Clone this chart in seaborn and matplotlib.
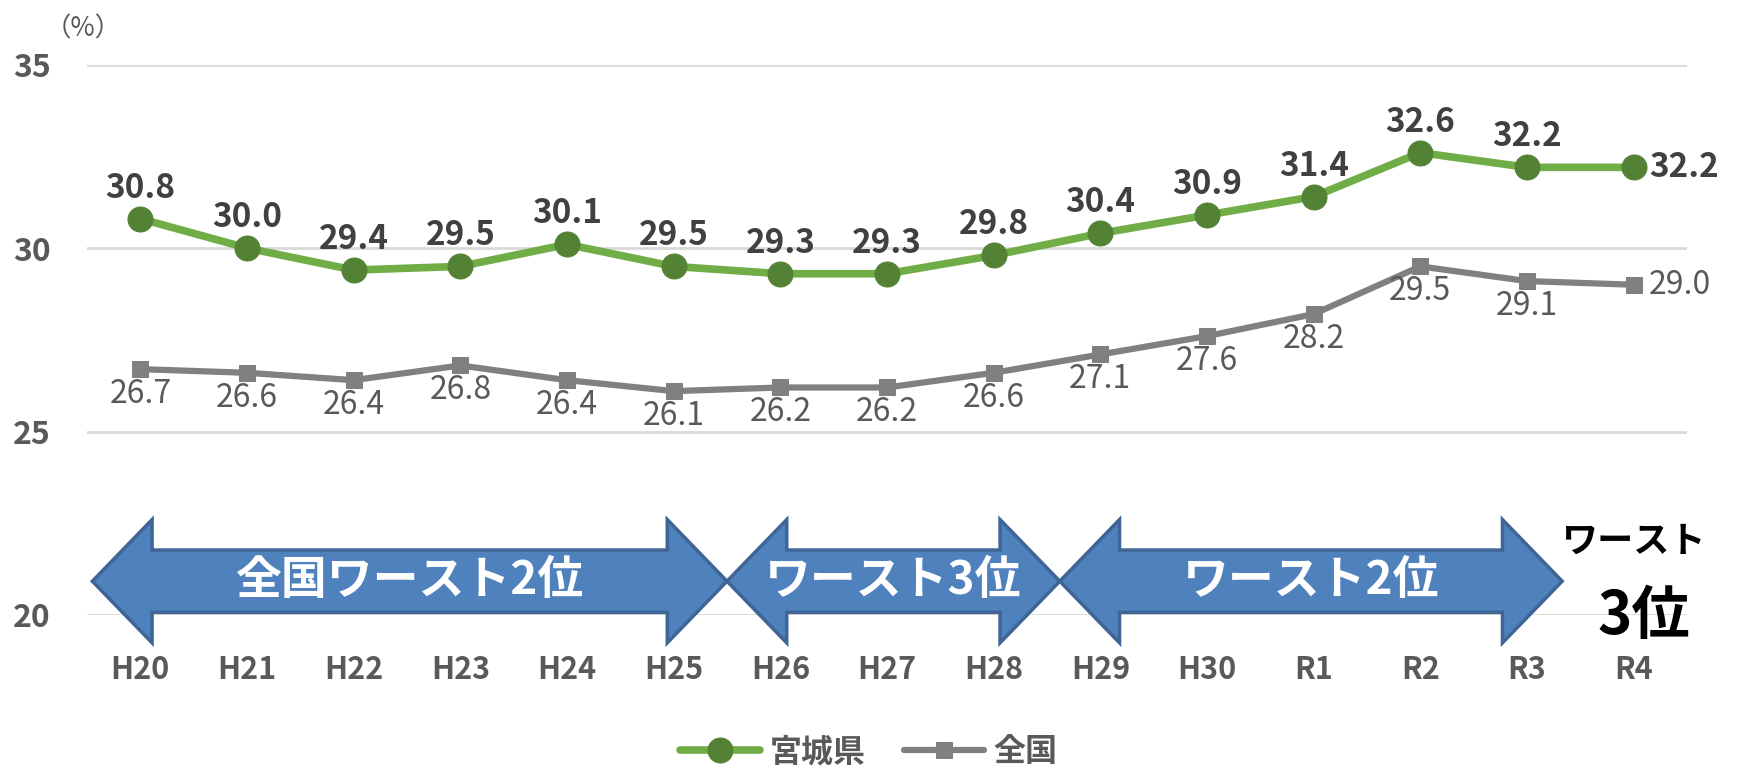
import matplotlib
matplotlib.use("Agg")
import matplotlib.pyplot as plt
from matplotlib.patches import Polygon
import seaborn as sns

# data
years = ["H20", "H21", "H22", "H23", "H24", "H25", "H26", "H27",
         "H28", "H29", "H30", "R1", "R2", "R3", "R4"]
miyagi = [30.8, 30.0, 29.4, 29.5, 30.1, 29.5, 29.3, 29.3,
          29.8, 30.4, 30.9, 31.4, 32.6, 32.2, 32.2]
national = [26.7, 26.6, 26.4, 26.8, 26.4, 26.1, 26.2, 26.2,
            26.6, 27.1, 27.6, 28.2, 29.5, 29.1, 29.0]
rank_spans = [(-0.45, 5.5), (5.5, 8.62), (8.62, 13.33)]
rank_texts = ["全国ワースト2位", "ワースト3位", "ワースト2位"]

sns.set_theme(style="white")
plt.rcParams['font.family'] = ['Noto Sans CJK JP', 'DejaVu Sans']

GREEN_LINE = "#70AD47"
GREEN_MARK = "#548235"
GRAY = "#808080"
TXT = "#595959"

fig = plt.figure(figsize=(17.37, 7.69), dpi=100)
ax = fig.add_axes([0.0501, 0.2003, 0.9211, 0.7157])

xs = list(range(len(years)))
sns.lineplot(x=xs, y=miyagi, ax=ax, color=GREEN_LINE, lw=5.5, marker="o",
             markersize=18, markerfacecolor=GREEN_MARK, markeredgecolor=GREEN_MARK,
             label="宮城県", sort=False, zorder=4)
sns.lineplot(x=xs, y=national, ax=ax, color=GRAY, lw=4.5, marker="s",
             markersize=12, markerfacecolor=GRAY, markeredgecolor=GRAY,
             label="全国", sort=False, zorder=3)

ax.set_xlim(-0.5, len(years) - 0.5)
ax.set_ylim(20, 35)
ax.set_yticks([20, 25, 30, 35])
ax.set_xticks(xs)
ax.set_xticklabels(years)
ax.set_xlabel("")
ax.set_ylabel("")
ax.grid(axis="y", color="#D9D9D9", lw=2)
ax.set_axisbelow(True)
sns.despine(ax=ax, left=True, bottom=True)
ax.tick_params(axis="x", length=0, pad=28, labelsize=22, labelcolor=TXT)
ax.tick_params(axis="y", length=0, pad=26, labelsize=23, labelcolor=TXT)
for lab in ax.get_xticklabels() + ax.get_yticklabels():
    lab.set_fontweight("bold")

# data labels
last = len(years) - 1
for i, v in enumerate(miyagi):
    if i == last:
        ax.annotate(f"{v:.1f}", (i, v), xytext=(11, 0), textcoords="offset points",
                    ha="left", va="center", fontsize=24, fontweight="bold", color="#404040")
    else:
        ax.annotate(f"{v:.1f}", (i, v), xytext=(0, 22), textcoords="offset points",
                    ha="center", va="center", fontsize=24, fontweight="bold", color="#404040")
for i, v in enumerate(national):
    if i == last:
        ax.annotate(f"{v:.1f}", (i, v), xytext=(11, 0), textcoords="offset points",
                    ha="left", va="center", fontsize=23, color=TXT)
    else:
        ax.annotate(f"{v:.1f}", (i, v), xytext=(0, -18), textcoords="offset points",
                    ha="center", va="center", fontsize=23, color=TXT)

# rank arrows
yc, head_len, head_h, body_h = 20.92, 0.56, 1.68, 0.85
for (x0, x1), txt in zip(rank_spans, rank_texts):
    verts = [(x0, yc), (x0 + head_len, yc + head_h), (x0 + head_len, yc + body_h),
             (x1 - head_len, yc + body_h), (x1 - head_len, yc + head_h), (x1, yc),
             (x1 - head_len, yc - head_h), (x1 - head_len, yc - body_h),
             (x0 + head_len, yc - body_h), (x0 + head_len, yc - head_h)]
    ax.add_patch(Polygon(verts, closed=True, facecolor="#4F81BD", edgecolor="#3E6595",
                         lw=2.5, clip_on=False, zorder=5))
    ax.text((x0 + x1) / 2, yc, txt, ha="center", va="center", fontsize=33,
            fontweight="bold", color="white", zorder=6)

ax.text(14.0, 22.0, "ワースト", ha="center", va="center", fontsize=26,
        fontweight="bold", color="black", clip_on=False)
ax.text(14.1, 19.95, "3位", ha="center", va="center", fontsize=42,
        fontweight="bold", color="black", clip_on=False)

fig.text(0.048, 0.962, "（%）", ha="center", va="center", fontsize=19, color=TXT)

handles, labels = ax.get_legend_handles_labels()
ax.get_legend().remove()
leg = fig.legend(handles, labels, loc="center", bbox_to_anchor=(0.5, 0.022), ncol=2,
                 frameon=False, fontsize=23, handlelength=2.5, columnspacing=1.2,
                 handletextpad=0.3)
for t in leg.get_texts():
    t.set_color(TXT)
    t.set_fontweight("bold")

fig.savefig("out.png", dpi=100)
